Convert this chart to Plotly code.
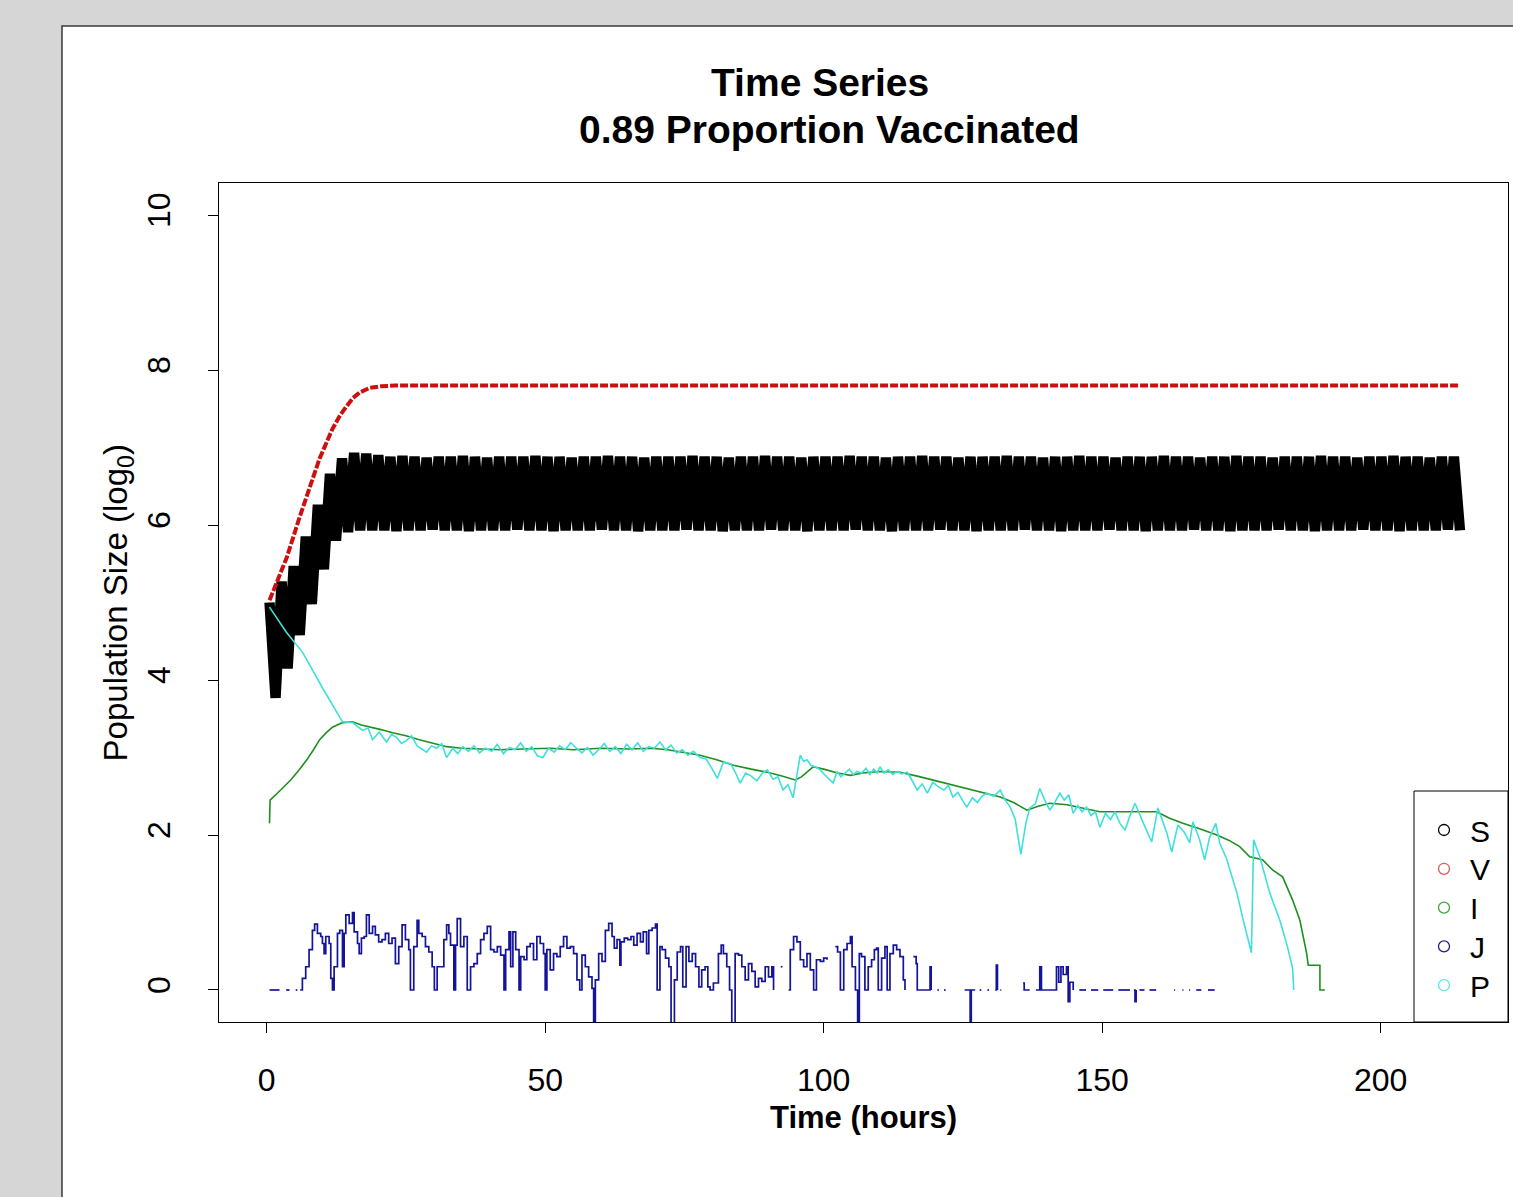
import plotly.graph_objects as go

# S is sampled on a regular grid (hours): peaks (S_hi) and troughs (S_lo) alternate
S_start = 0.5
S_step = 1.085

S_hi = [5.00, 5.27, 5.47, 5.85, 6.26, 6.66, 6.86, 6.93, 6.92, 6.90,
        6.88, 6.89, 6.88, 6.87, 6.88, 6.88, 6.89, 6.88, 6.87, 6.88,
        6.88, 6.88, 6.89, 6.88, 6.88, 6.87, 6.88, 6.88, 6.89, 6.88,
        6.88, 6.87, 6.88, 6.88, 6.88, 6.89, 6.88, 6.88, 6.87, 6.88,
        6.88, 6.89, 6.88, 6.88, 6.87, 6.88, 6.88, 6.88, 6.89, 6.88,
        6.88, 6.87, 6.88, 6.88, 6.89, 6.88, 6.88, 6.87, 6.88, 6.88,
        6.88, 6.89, 6.88, 6.88, 6.87, 6.88, 6.88, 6.89, 6.88, 6.88,
        6.87, 6.88, 6.88, 6.88, 6.89, 6.88, 6.88, 6.87, 6.88, 6.88,
        6.89, 6.88, 6.88, 6.87, 6.88, 6.88, 6.88, 6.89, 6.88, 6.88,
        6.87, 6.88, 6.88, 6.89, 6.88, 6.88, 6.87, 6.88, 6.88]
S_lo = [3.77, 4.15, 4.58, 4.98, 5.43, 5.80, 5.91, 5.93, 5.93, 5.93,
        5.92, 5.93, 5.93, 5.94, 5.93, 5.93, 5.92, 5.93, 5.93, 5.93,
        5.94, 5.93, 5.93, 5.92, 5.93, 5.93, 5.93, 5.94, 5.93, 5.93,
        5.92, 5.93, 5.93, 5.93, 5.94, 5.93, 5.93, 5.92, 5.93, 5.93,
        5.93, 5.94, 5.93, 5.93, 5.92, 5.93, 5.93, 5.93, 5.94, 5.93,
        5.93, 5.92, 5.93, 5.93, 5.93, 5.94, 5.93, 5.93, 5.92, 5.93,
        5.93, 5.93, 5.94, 5.93, 5.93, 5.92, 5.93, 5.93, 5.93, 5.94,
        5.93, 5.93, 5.92, 5.93, 5.93, 5.93, 5.94, 5.93, 5.93, 5.92,
        5.93, 5.93, 5.93, 5.94, 5.93, 5.93, 5.92, 5.93, 5.93, 5.93,
        5.94, 5.93, 5.93, 5.92, 5.93, 5.93, 5.93, 5.94, 5.93]

V_time = [0.5, 2.0, 3.6, 5.9, 7.7, 9.5, 11.8, 13.2, 14.3, 15.5, 16.7, 18.5, 20.5, 23.0, 214.2]
V_val = [5.03, 5.30, 5.58, 6.10, 6.50, 6.86, 7.24, 7.42, 7.53, 7.64, 7.71, 7.77, 7.79, 7.80, 7.80]

I_time = [0.5, 0.6, 2.5, 4.3, 5.8, 7.2, 8.4, 9.5, 10.7, 11.8, 13.6, 15.4, 17.0, 18.5, 20.5,
          22.6, 25.0, 27.4, 30.0, 32.3, 35.0, 38.0, 42.0, 46.0, 51.0, 55.0, 60.0, 65.0, 69.0,
          72.0, 75.0, 77.8, 80.8, 83.8, 87.0, 89.9, 92.5, 94.9, 96.0, 97.0, 98.1, 100.0, 102.5,
          104.8, 107.0, 110.0, 113.7, 116.8, 119.6, 122.6, 125.7, 128.7, 131.7, 134.1, 136.5,
          138.5, 140.6, 143.7, 146.0, 148.3, 149.6, 155.5, 159.8, 162.0, 164.5, 167.5, 170.6,
          172.8, 174.7, 176.5, 178.8, 180.6, 182.4, 184.2, 185.5, 186.7, 187.0, 189.1, 189.1, 190.0]
I_val = [2.15, 2.45, 2.58, 2.71, 2.84, 2.97, 3.10, 3.23, 3.32, 3.39, 3.45, 3.46, 3.42, 3.39, 3.36,
         3.32, 3.28, 3.23, 3.18, 3.14, 3.12, 3.11, 3.10, 3.11, 3.12, 3.10, 3.12, 3.11, 3.12,
         3.10, 3.06, 3.03, 2.97, 2.90, 2.85, 2.81, 2.76, 2.71, 2.75, 2.81, 2.88, 2.85, 2.80,
         2.77, 2.80, 2.82, 2.81, 2.76, 2.71, 2.66, 2.60, 2.55, 2.49, 2.42, 2.32,
         2.37, 2.41, 2.39, 2.35, 2.32, 2.30, 2.30, 2.30, 2.22, 2.15, 2.08, 2.00,
         1.93, 1.85, 1.72, 1.68, 1.55, 1.46, 1.16, 0.90, 0.48, 0.32, 0.32, 0.0, 0.0]

J_time = [0.5, 2.3, None, 3.5, 4.1, None, 5.2, 5.5, None,
          6.0, 6.4, 7.0, 7.6, 8.2, 8.6, 9.1, 9.7, 10.0, 10.3, 10.6, 11.2, 11.5, 11.8, 12.1, 12.7,
          13.1, 13.6, 13.9, 14.2, 14.8, 15.4, 15.7, 16.3, 16.6, 17.0, 17.5, 17.9, 18.4, 19.0,
          19.5, 20.1, 20.7, 21.3, 21.9, 22.5, 23.1, 23.7, 24.3, 24.9, 25.5, 25.8, 26.4, 27.0,
          27.3, 27.9, 28.5, 29.1, 29.7, 30.1, 30.6, 31.2, 31.8, 32.3, 32.7, 33.0, 33.6, 33.9,
          34.2, 34.8, 35.4, 36.0, 36.6, 37.2, 37.8, 38.4, 39.0, 39.6, 40.2, 40.8, 41.4, 42.0,
          42.6, 42.9, 43.5, 43.8, 44.2, 44.7, 45.3, 45.6, 46.2, 46.7, 47.3, 47.9, 48.5, 49.1,
          49.7, 50.0, 50.3, 50.9, 51.5, 52.1, 52.7, 53.3, 53.9, 54.5, 55.1, 55.7, 56.2, 56.6,
          57.2, 57.8, 58.4, 58.7, 59.0, 59.6, 60.2, 60.8, 61.4, 62.0, 62.4, 62.9, 63.4, 63.6,
          64.2, 64.8, 65.4, 65.9, 66.5, 67.1, 67.6, 68.2, 68.6, 69.2, 69.8, 70.1, 70.6, 71.0,
          71.6, 72.2, 72.6, 73.2, 73.7, 74.3, 74.7, 75.3, 75.8, 76.4, 77.0, 77.6, 78.1, 78.7,
          79.2, 79.6, 80.2, 81.1, 81.6, 82.0, 82.6, 83.1, 83.5, 84.1, 84.7, 85.3, 85.9, 86.5,
          87.1, 87.7, 88.3, 88.9, 89.5, 90.1, 90.7, 91.0, None, 92.3, 92.6, None,
          93.7, 94.0, 94.6, 95.2, 95.8, 96.4, 97.0, 97.6, 98.2, 98.7, 99.4, 100.0, 100.6, None,
          102.1, 102.5, 103.0, 103.6, 104.2, 104.8, 105.1, 105.7, 106.1, 106.4, 106.8, 107.4,
          108.0, 108.6, 109.1, 109.5, 109.8, 110.4, 111.0, 111.4, 111.9, 112.5, 113.1, 113.7,
          114.3, 114.6, None, 116.1, 116.6, 116.8, 118.2, 119.1, 119.3, None,
          120.4, 120.7, None, 121.6, 121.9, None, 125.3, 126.3, 126.5, 127.2, None,
          128.0, 128.3, None, 129.4, 129.7, None, 130.8, 131.0, 131.2, None, 131.7, 131.9, None,
          135.8, 136.0, 137.0, None, 138.1, 138.6, 138.8, 139.1, 140.9, 141.4, 141.8, 142.2,
          142.6, 143.0, 143.6, 143.9, 144.2, 144.8, None, 145.9, 147.1, None, 148.0, 149.3, None,
          150.2, 152.0, None, 152.9, 155.0, None, 155.7, 155.9, 156.1, None, 156.7, 157.6, None,
          158.5, 159.7, None, 162.9, 163.1, None, 164.4, 164.6, None, 165.6, 165.8, None,
          166.9, 167.8, None, 169.0, 170.2]
J_val = [0, 0, None, 0, 0, None, 0, 0, None,
         0, 0.15, 0.30, 0.52, 0.77, 0.85, 0.73, 0.69, 0.60, 0.47, 0.69, 0.60, 0.15, 0.0, 0.30, 0.73,
         0.77, 0.30, 0.73, 0.97, 0.86, 1.00, 0.75, 0.60, 0.47, 0.67, 0.69, 0.97, 0.73, 0.82,
         0.71, 0.62, 0.65, 0.73, 0.60, 0.67, 0.34, 0.56, 0.84, 0.65, 0.52, 0.0, 0.56, 0.90,
         0.73, 0.69, 0.56, 0.49, 0.30, 0.0, 0.30, 0.30, 0.65, 0.84, 0.73, 0.58, 0.0, 0.58,
         0.92, 0.56, 0.69, 0.0, 0.30, 0.34, 0.47, 0.65, 0.73, 0.82, 0.52, 0.49, 0.56, 0.45,
         0.0, 0.52, 0.75, 0.30, 0.75, 0.52, 0.0, 0.43, 0.39, 0.56, 0.60, 0.39, 0.69, 0.60,
         0.47, 0.0, 0.52, 0.26, 0.47, 0.43, 0.56, 0.69, 0.54, 0.56, 0.47, 0.13, 0.0, 0.45,
         0.30, 0.17, 0.02, -1.0, 0.13, 0.47, 0.37, 0.77, 0.86, 0.69, 0.54, 0.65, 0.32, 0.62,
         0.67, 0.65, 0.69, 0.58, 0.73, 0.62, 0.75, 0.47, 0.77, 0.80, 0.85, 0.0, 0.56, 0.52,
         0.41, 0.30, -1.0, 0.13, 0.49, 0.56, 0.04, 0.56, 0.37, 0.47, 0.30, 0.04, 0.26, 0.30,
         0.04, 0.0, 0.09, 0.47, 0.58, 0.47, 0.30, 0.0, -1.0, 0.47, 0.45, 0.30, 0.13, 0.34,
         0.24, 0.04, 0.15, 0.11, 0.30, 0.17, 0.30, 0.0, None, 0.30, 0.30, None,
         0.0, 0.52, 0.69, 0.62, 0.39, 0.30, 0.47, 0.26, 0.0, 0.39, 0.37, 0.41, 0.39, None,
         0.56, 0.49, 0.0, 0.52, 0.60, 0.69, 0.30, 0.0, -1.0, 0.47, 0.43, 0.0,
         0.30, 0.39, 0.52, 0.54, 0.0, 0.41, 0.56, 0.0, 0.47, 0.58, 0.52, 0.43,
         0.13, 0.0, None, 0.43, 0.34, 0.0, 0.0, 0.30, 0.0, None,
         0, 0, None, 0, 0, None, 0, -1.0, 0, 0, None,
         0, 0, None, 0, 0, None, 0, 0.32, 0, None, 0, 0, None,
         0.09, 0, 0, None, 0, 0, 0.30, 0, 0, 0, 0.30, 0.10,
         0.30, 0.20, 0.30, -0.15, 0.10, 0, None, 0, 0, None, 0, 0, None,
         0, 0, None, 0, 0, None, 0, -0.15, 0, None, 0, 0, None,
         0, 0, None, 0, 0, None, 0, 0, None, 0, 0, None,
         0, 0, None, 0, 0]

P_time = [0.5, 3.5, 6.5, 10.0, 13.6, 15.4, 17.2, 18.2, 19.0, 20.2, 21.5, 22.4, 23.3, 24.2, 25.1,
          26.0, 27.0, 28.7, 29.6, 30.5, 31.4, 32.3, 33.4, 34.3, 35.2, 36.2, 37.2, 38.2, 39.3,
          40.4, 41.4, 42.5, 43.6, 44.6, 45.6, 46.6, 47.6, 48.6, 49.6, 50.6, 51.6, 52.6, 53.6,
          54.6, 55.6, 56.6, 57.6, 58.6, 59.6, 60.6, 61.6, 62.6, 63.6, 64.6, 65.6, 66.6, 67.6,
          68.6, 69.6, 70.6, 71.6, 72.6, 73.6, 74.6, 75.6, 76.6, 77.8, 78.9, 80.0, 80.9, 82.0,
          83.3, 84.2, 85.0, 86.0, 87.0, 88.0, 89.0, 89.9, 90.9, 91.8, 92.7, 93.6, 94.5, 95.8,
          96.4, 97.0, 97.7, 98.5, 99.4, 100.0, 100.6, 101.7, 102.4, 103.1, 103.8, 104.6, 105.3,
          106.0, 106.8, 107.6, 108.3, 109.0, 109.6, 110.1, 110.8, 111.6, 112.4, 113.2, 114.0,
          115.0, 115.9, 116.8, 117.7, 118.6, 119.6, 120.6, 121.6, 122.4, 123.2, 124.1, 124.9,
          125.7, 126.7, 127.6, 128.4, 129.3, 130.5, 131.7, 132.6, 133.5, 134.4, 135.4, 136.3,
          137.0, 138.0, 138.8, 139.7, 140.6, 141.5, 142.4, 143.2, 144.0, 144.8, 145.6, 146.4,
          147.2, 148.0, 148.8, 149.6, 150.6, 151.5, 152.3, 153.2, 154.1, 155.0, 155.9, 157.3,
          158.9, 160.0, 161.6, 162.5, 163.6, 164.8, 165.7, 166.3, 167.5, 168.4, 169.3, 170.4,
          171.1, 172.4, 174.2, 175.2, 176.8, 177.2, 178.3, 180.1, 181.9, 183.3, 184.2, 184.4]
P_val = [4.94, 4.62, 4.35, 3.90, 3.46, 3.45, 3.35, 3.38, 3.23, 3.33, 3.20, 3.30, 3.26, 3.18, 3.22,
         3.28, 3.15, 3.07, 3.15, 3.12, 3.18, 3.00, 3.12, 3.05, 3.14, 3.08, 3.15, 3.06, 3.12,
         3.08, 3.17, 3.05, 3.13, 3.10, 3.19, 3.08, 3.14, 3.02, 3.00, 3.12, 3.07, 3.15, 3.10,
         3.19, 3.12, 3.06, 3.13, 3.03, 3.10, 3.18, 3.08, 3.14, 3.05, 3.17, 3.10, 3.19, 3.08,
         3.14, 3.12, 3.20, 3.10, 3.16, 3.06, 3.10, 3.03, 3.08, 3.00, 2.98, 2.85, 2.73, 2.94,
         2.92, 2.80, 2.67, 2.80, 2.76, 2.70, 2.80, 2.84, 2.72, 2.75, 2.58, 2.65, 2.48, 3.03,
         2.95, 2.97, 2.90, 2.88, 2.84, 2.79, 2.75, 2.67, 2.82, 2.75, 2.80, 2.85, 2.78,
         2.82, 2.80, 2.86, 2.78, 2.85, 2.80, 2.88, 2.80, 2.84, 2.78, 2.82, 2.79,
         2.81, 2.70, 2.58, 2.66, 2.54, 2.68, 2.62, 2.58, 2.64, 2.49, 2.55, 2.45,
         2.36, 2.48, 2.42, 2.50, 2.54, 2.50, 2.58, 2.45, 2.36, 2.20, 1.75, 2.15,
         2.35, 2.40, 2.60, 2.45, 2.32, 2.42, 2.54, 2.45, 2.52, 2.28, 2.38, 2.30,
         2.36, 2.25, 2.30, 2.10, 2.28, 2.20, 2.30, 2.15, 2.06, 2.25, 2.41, 2.17,
         1.91, 2.35, 2.03, 1.78, 2.13, 2.03, 1.90, 2.17, 1.94, 1.68, 1.97, 2.15,
         1.90, 1.68, 1.25, 0.94, 0.48, 1.94, 1.72, 1.25, 0.90, 0.55, 0.28, 0.0]

x_ticks = [0, 50, 100, 150, 200]
y_ticks = [0, 2, 4, 6, 8, 10]

legend_names = ["S", "V", "I", "J", "P"]
legend_colors = ["#000000", "#e05a5a", "#40a840", "#22228f", "#5ee6e6"]

# zigzag S: peak, trough, peak, trough ...
S_time = []
S_val = []
for j in range(len(S_hi)):
    S_time.append(S_start + S_step * (2 * j))
    S_val.append(S_hi[j])
    S_time.append(S_start + S_step * (2 * j + 1))
    S_val.append(S_lo[j])

FONT = "Liberation Sans, Arial, sans-serif"

fig = go.Figure()
fig.add_trace(go.Scatter(x=S_time, y=S_val, mode="lines", line=dict(color="black", width=10.4)))
fig.add_trace(go.Scatter(x=V_time, y=V_val, mode="lines",
                         line=dict(color="#cc1010", width=4, dash="8px,2px")))
fig.add_trace(go.Scatter(x=I_time, y=I_val, mode="lines", line=dict(color="#1f8f1f", width=1.6)))
fig.add_trace(go.Scatter(x=J_time, y=J_val, mode="lines", connectgaps=False,
                         line=dict(color="#14149a", width=1.7, shape="hv")))
fig.add_trace(go.Scatter(x=P_time, y=P_val, mode="lines", line=dict(color="#3ee0dc", width=1.6)))

axis_common = dict(showgrid=False, zeroline=False, showline=True, mirror=True, linecolor="black",
                   linewidth=1, ticks="outside", ticklen=10, tickwidth=1, tickcolor="black",
                   tickfont=dict(family=FONT, size=32, color="black"))

fig.update_xaxes(range=[-8.57, 222.87], tickvals=x_ticks, ticklabelstandoff=20, **axis_common)
fig.update_yaxes(range=[-0.413, 10.413], tickvals=y_ticks, tickangle=-90, ticklabelstandoff=25, **axis_common)


def px_x(p):
    return (p - 219) / 1289.0


def px_y(p):
    return (1022 - p) / 839.0


# R-style legend box in the lower right corner
shapes = [dict(type="rect", xref="paper", yref="paper", x0=-0.1218, x1=1.02, y0=-0.25, y1=1.1871,
               fillcolor="white", line=dict(color="#3a3a3a", width=1.5), layer="below"),
          dict(type="rect", xref="paper", yref="paper", x0=px_x(1414), x1=1.0, y0=0, y1=px_y(791),
               fillcolor="white", line=dict(color="black", width=1), layer="above")]
annotations = [
    dict(text="<b>Time Series</b>", xref="paper", yref="paper", x=0.466, y=1.1192,
         showarrow=False, font=dict(size=39), xanchor="center", yanchor="middle"),
    dict(text="<b>0.89 Proportion Vaccinated</b>", xref="paper", yref="paper", x=0.474, y=1.0632,
         showarrow=False, font=dict(size=39), xanchor="center", yanchor="middle"),
    dict(text="<b>Time (hours)</b>", xref="paper", yref="paper", x=0.5, y=-0.1144,
         showarrow=False, font=dict(size=31), xanchor="center", yanchor="middle"),
    dict(text="Population Size (log<sub>0</sub>)", xref="paper", yref="paper", x=-0.0784, y=0.5,
         textangle=-90, showarrow=False, font=dict(size=33), xanchor="center", yanchor="middle"),
]
for k, (name, col) in enumerate(zip(legend_names, legend_colors)):
    cy = 830 + 38.8 * k
    shapes.append(dict(type="circle", xref="paper", yref="paper",
                       x0=px_x(1444 - 5.5), x1=px_x(1444 + 5.5), y0=px_y(cy + 5.5), y1=px_y(cy - 5.5),
                       line=dict(color=col, width=1.3), layer="above"))
    annotations.append(dict(text=name, xref="paper", yref="paper", x=px_x(1468), y=px_y(cy + 1),
                            showarrow=False, font=dict(size=30), xanchor="left", yanchor="middle"))

fig.update_layout(
    width=1513, height=1197,
    margin=dict(l=219, r=5, t=183, b=175),
    paper_bgcolor="#d6d6d6",
    plot_bgcolor="white",
    showlegend=False,
    font=dict(family=FONT, color="black"),
    shapes=shapes,
    annotations=annotations,
)

fig.write_html("out.html", config={"displayModeBar": False},
               post_script="document.body.style.margin='0';document.body.style.overflow='hidden';")
